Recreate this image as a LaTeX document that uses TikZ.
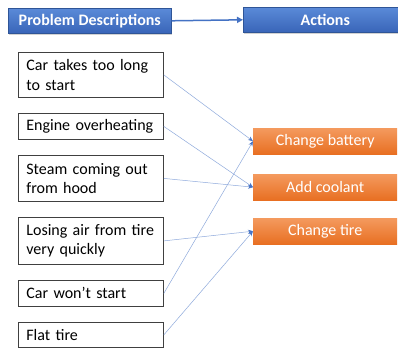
\documentclass[tikz,border=0pt]{standalone}
\usepackage{fontspec}
\setmainfont{Carlito}
\usetikzlibrary{arrows.meta,shadows}
\definecolor{hdrtop}{HTML}{5A8AD8}
\definecolor{hdrbot}{HTML}{3965B8}
\definecolor{hdrline}{HTML}{2F5597}
\definecolor{ortop}{HTML}{F49A5E}
\definecolor{orbot}{HTML}{E86F22}
\definecolor{linkblue}{HTML}{8FAADC}
\definecolor{tipblue}{HTML}{4472C4}
\begin{document}
\begin{tikzpicture}[x=1pt,y=-1pt,
  every node/.style={font=\fontsize{16}{19.5}\selectfont},
  hdr/.style={draw=hdrline,line width=0.6pt,top color=hdrtop,bottom color=hdrbot,
    text=white,font=\fontsize{16}{19.5}\selectfont\bfseries,inner sep=0pt,
    drop shadow={shadow xshift=1pt,shadow yshift=-1.5pt,opacity=0.35}},
  probbox/.style={draw=black!75,line width=0.8pt,fill=white,anchor=north west,
    minimum width=145pt,text width=129pt,inner xsep=8pt,inner ysep=0pt,align=left,
    drop shadow={shadow xshift=1pt,shadow yshift=-1pt,opacity=0.4}},
  actbox/.style={top color=ortop,bottom color=orbot,draw=none,text=white,
    minimum width=144pt,minimum height=26pt,inner sep=0pt,anchor=north west},
  link/.style={draw=linkblue,line width=0.5pt,-{Stealth[length=5pt,width=4pt,fill=tipblue,color=tipblue]}},
  hdrarrow/.style={draw=tipblue,line width=1.5pt,-{Triangle[length=6pt,width=6pt]}}
]
\useasboundingbox (0,0) rectangle (398,348);
\fill[white] (0,0) rectangle (398,348);

\node[hdr,minimum width=163pt,minimum height=25pt,anchor=north west] (pd) at (8,8) {Problem Descriptions};
\node[hdr,minimum width=164pt,minimum height=25pt,anchor=north west] (act) at (243,7) {Actions};
\draw[hdrarrow] (pd.east) -- (act.west);

\node[probbox,minimum height=45pt] (p1) at (18,52) {Car takes too long\\to start};
\node[probbox,minimum height=26pt] (p2) at (18,113) {Engine overheating};
\node[probbox,minimum height=46pt] (p3) at (18,155) {Steam coming out\\from hood};
\node[probbox,minimum height=47pt] (p4) at (18,217) {Losing air from tire\\very quickly};
\node[probbox,minimum height=26pt] (p5) at (18,280) {Car won’t start};
\node[probbox,minimum height=25pt] (p6) at (18,322) {Flat tire};

\node[actbox] (a1) at (253,128) {Change battery};
\node[actbox] (a2) at (253,174) {Add coolant};
\node[actbox] (a3) at (253,218) {Change tire};

\draw[link] (p1.east) -- (a1.west);
\draw[link] (p2.east) -- (a2.west);
\draw[link] (p3.east) -- (a2.west);
\draw[link] (p4.east) -- (a3.west);
\draw[link] (p5.east) -- (a1.west);
\draw[link] (p6.east) -- (a3.west);
\end{tikzpicture}
\end{document}
